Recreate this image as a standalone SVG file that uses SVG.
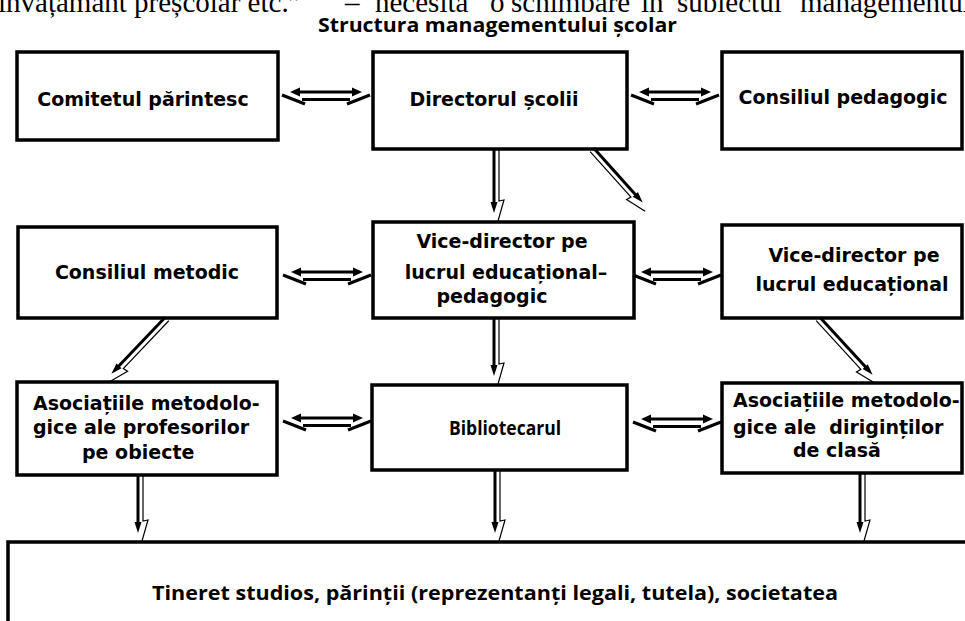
<svg xmlns="http://www.w3.org/2000/svg" width="965" height="621" viewBox="0 0 965 621">
<style>
 .box{fill:#fff;stroke:#000;stroke-width:3.5}
 .t{font-family:"DejaVu Sans",sans-serif;font-weight:bold;font-size:19px;fill:#000}
 .n{font-family:"Open Sans","DejaVu Sans",sans-serif;font-weight:bold;font-size:20px;fill:#000}
 .top{font-family:"Liberation Serif","Times New Roman",serif;font-size:29px;fill:#000}
 .k{stroke:#000;stroke-width:3;fill:none}
 .f{stroke:#000;stroke-width:1.2;fill:none}
 .h{fill:#000;stroke:none}
</style>
<defs>
 <g id="harr">
  <line class="k" x1="0" y1="-1" x2="23" y2="8"/>
  <line class="k" x1="88" y1="-1" x2="65" y2="8"/>
  <line class="k" x1="14" y1="-4" x2="74" y2="-4"/>
  <polygon class="h" points="8,-4 18,-8.5 18,0.5"/>
  <polygon class="h" points="80,-4 70,-8.5 70,0.5"/>
  <line class="k" x1="20" y1="3.5" x2="68" y2="3.5"/>
 </g>
</defs>
<rect width="965" height="621" fill="#fff"/>
<text class="top" y="12"><tspan x="-2">învățământ preșcolar etc.”</tspan><tspan x="345">–</tspan><tspan x="375">necesită</tspan><tspan x="490">o</tspan><tspan x="511">schimbare</tspan><tspan x="641">în</tspan><tspan x="677">subiectul</tspan><tspan x="800">managementului</tspan></text>
<text class="n" x="497.5" y="32" text-anchor="middle" textLength="359" lengthAdjust="spacingAndGlyphs">Structura managementului școlar</text>

<g id="comitetul">
 <rect class="box" x="17" y="52" width="261" height="88"/>
 <text class="t" x="143" y="106" text-anchor="middle">Comitetul părintesc</text>
</g>
<g id="directorul">
 <rect class="box" x="373" y="52" width="254" height="97"/>
 <text class="t" x="494" y="106" text-anchor="middle">Directorul școlii</text>
</g>
<g id="consiliul-pedagogic">
 <rect class="box" x="722" y="52" width="240" height="97"/>
 <text class="t" x="843" y="104" text-anchor="middle">Consiliul pedagogic</text>
</g>
<g id="consiliul-metodic">
 <rect class="box" x="18" y="227" width="259" height="91"/>
 <text class="t" x="147" y="279" text-anchor="middle">Consiliul metodic</text>
</g>
<g id="vice-ped">
 <rect class="box" x="373" y="222" width="261" height="96"/>
 <text class="t" x="502" y="248" text-anchor="middle">Vice-director pe</text>
 <text class="t" x="506" y="279" text-anchor="middle">lucrul educațional–</text>
 <text class="t" x="492" y="303" text-anchor="middle">pedagogic</text>
</g>
<g id="vice-educ">
 <rect class="box" x="722" y="225" width="240" height="93"/>
 <text class="t" x="854" y="262" text-anchor="middle">Vice-director pe</text>
 <text class="t" x="852" y="291" text-anchor="middle">lucrul educațional</text>
</g>
<g id="asoc-prof">
 <rect class="box" x="17" y="382" width="260" height="93"/>
 <text class="t" x="33" y="410">Asociațiile metodolo-</text>
 <text class="t" x="33" y="434">gice ale profesorilor</text>
 <text class="t" x="82" y="459">pe obiecte</text>
</g>
<g id="bibliotecarul">
 <rect class="box" x="372" y="385" width="255" height="85"/>
 <text class="n" x="505" y="435" text-anchor="middle" font-size="24" textLength="112" lengthAdjust="spacingAndGlyphs">Bibliotecarul</text>
</g>
<g id="asoc-dirig">
 <rect class="box" x="722" y="383" width="240" height="90"/>
 <text class="t" x="733" y="407">Asociațiile metodolo-</text>
 <text class="t" x="733" y="434">gice ale&#160; diriginților</text>
 <text class="t" x="793" y="457">de clasă</text>
</g>
<g id="tineret">
 <rect class="box" x="8" y="542" width="970" height="100"/>
 <text class="n" x="495" y="600" text-anchor="middle" font-size="22" textLength="686" lengthAdjust="spacingAndGlyphs">Tineret studios, părinții (reprezentanți legali, tutela), societatea</text>
</g>

<g id="connectors">
 <use href="#harr" transform="translate(282,96)"/>
 <use href="#harr" transform="translate(631,96)"/>
 <use href="#harr" transform="translate(283,276)"/>
 <use href="#harr" transform="translate(633,276)"/>
 <use href="#harr" transform="translate(283,422)"/>
 <use href="#harr" transform="translate(633,423)"/>

 <g transform="translate(496.5,150) rotate(90)">
  <line class="k" x1="0" y1="2.5" x2="55" y2="2.5"/>
  <polyline class="f" points="0,-2.5 51,-2.5 50,-7.5 71,-1.5"/>
  <polygon class="h" points="52,6 52,-1 63,2.5"/>
 </g>
 <g transform="translate(496.5,319) rotate(90)">
  <line class="k" x1="0" y1="2.5" x2="49" y2="2.5"/>
  <polyline class="f" points="0,-2.5 45,-2.5 44,-7.5 65,-1.5"/>
  <polygon class="h" points="46,6 46,-1 57,2.5"/>
 </g>
 <g transform="translate(140.5,476) rotate(90)">
  <line class="k" x1="0" y1="2.5" x2="49" y2="2.5"/>
  <polyline class="f" points="0,-2.5 45,-2.5 44,-7.5 65,-1.5"/>
  <polygon class="h" points="46,6 46,-1 57,2.5"/>
 </g>
 <g transform="translate(497.5,471) rotate(90)">
  <line class="k" x1="0" y1="2.5" x2="54" y2="2.5"/>
  <polyline class="f" points="0,-2.5 50,-2.5 49,-7.5 70,-1.5"/>
  <polygon class="h" points="51,6 51,-1 62,2.5"/>
 </g>
 <g transform="translate(862.5,474) rotate(90)">
  <line class="k" x1="0" y1="2.5" x2="51" y2="2.5"/>
  <polyline class="f" points="0,-2.5 47,-2.5 46,-7.5 67,-1.5"/>
  <polygon class="h" points="48,6 48,-1 59,2.5"/>
 </g>
 <g transform="translate(592,150) rotate(48) scale(1,-1)">
  <line class="k" x1="0" y1="2.5" x2="65" y2="2.5"/>
  <polyline class="f" points="0,-2.5 61,-2.5 60,-7.5 81,-1.5"/>
  <polygon class="h" points="62,6 62,-1 73,2.5"/>
 </g>
 <g transform="translate(167,319) rotate(133.6)">
  <line class="k" x1="0" y1="2.5" x2="70" y2="2.5"/>
  <polyline class="f" points="0,-2.5 66,-2.5 65,-7.5 86,-1.5"/>
  <polygon class="h" points="67,6 67,-1 78,2.5"/>
 </g>
 <g transform="translate(818,319) rotate(47.4) scale(1,-1)">
  <line class="k" x1="0" y1="2.5" x2="70" y2="2.5"/>
  <polyline class="f" points="0,-2.5 66,-2.5 65,-7.5 86,-1.5"/>
  <polygon class="h" points="67,6 67,-1 78,2.5"/>
 </g>
</g>
</svg>
